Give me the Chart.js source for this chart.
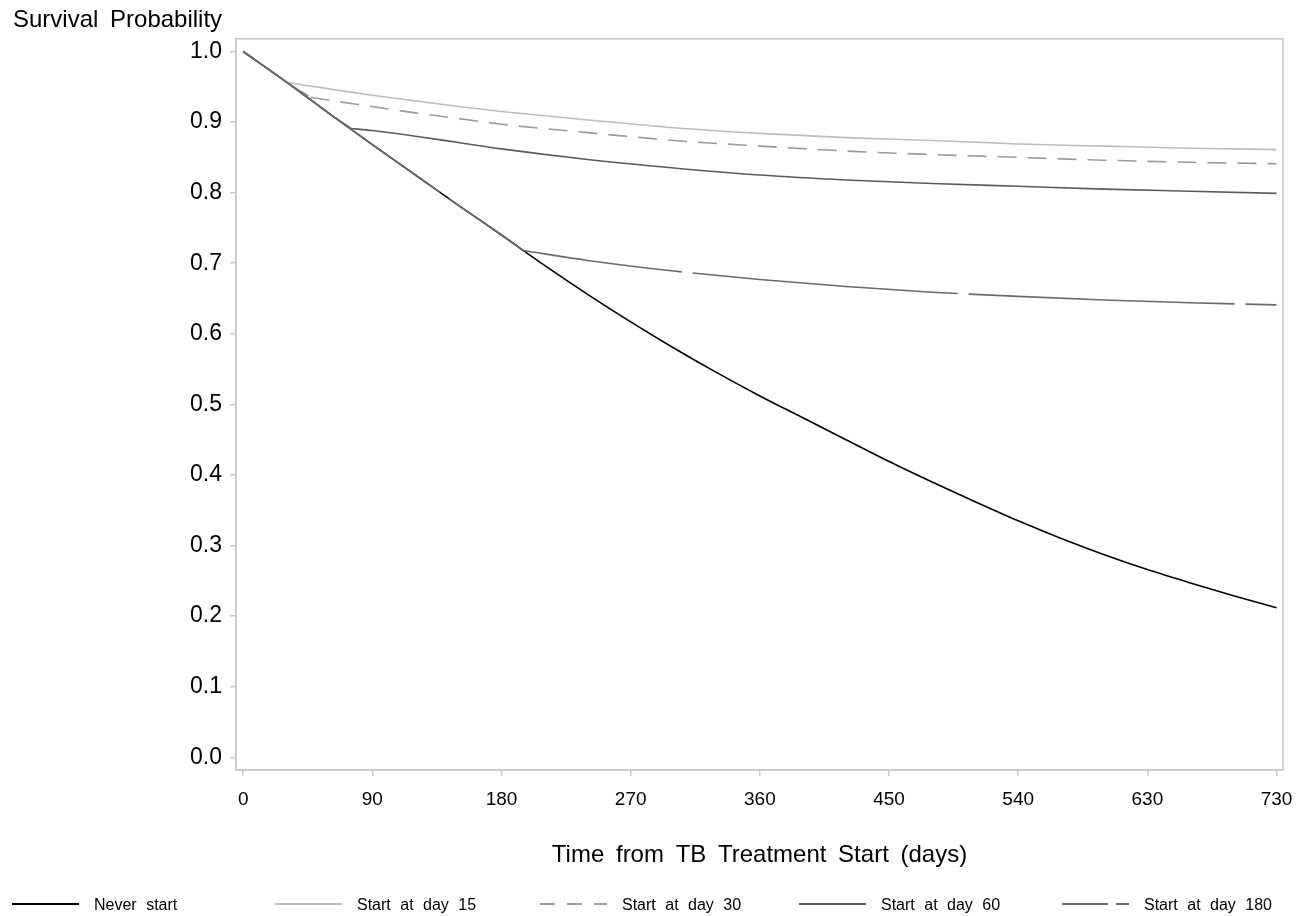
<!DOCTYPE html>
<html>
<head>
<meta charset="utf-8">
<script src="https://cdn.jsdelivr.net/npm/chart.js@4.4.1/dist/chart.umd.min.js"></script>
<style>
  html, body { margin: 0; padding: 0; background: #fff; }
</style>
</head>
<body>
<canvas id="chart" width="1305" height="916"></canvas>
<script>
// Survival curves (days -> probability).
const seriesNames = ['Never start', 'Start at day 15', 'Start at day 30', 'Start at day 60', 'Start at day 180'];

const neverDays = [0, 30, 60, 90, 120, 150, 180, 210, 240, 270, 300, 330, 360, 390, 420, 450, 480, 510, 540, 570, 600, 630, 660, 690, 720];
const neverSurv = [1.000, 0.957, 0.912, 0.868, 0.825, 0.782, 0.740, 0.697, 0.656, 0.617, 0.580, 0.545, 0.512, 0.481, 0.450, 0.419, 0.390, 0.362, 0.335, 0.310, 0.287, 0.266, 0.247, 0.229, 0.212];

const day15Days = [31, 60, 90, 120, 150, 180, 240, 300, 360, 420, 480, 540, 600, 660, 720];
const day15Surv = [0.956, 0.947, 0.938, 0.930, 0.922, 0.915, 0.903, 0.892, 0.884, 0.878, 0.874, 0.869, 0.866, 0.863, 0.861];

const day30Days = [47, 60, 90, 120, 150, 180, 240, 300, 360, 420, 480, 540, 600, 660, 720];
const day30Surv = [0.935, 0.931, 0.922, 0.913, 0.905, 0.897, 0.885, 0.874, 0.866, 0.859, 0.854, 0.850, 0.846, 0.843, 0.841];

const day60Days = [75, 90, 120, 150, 180, 240, 300, 360, 420, 480, 540, 600, 660, 720];
const day60Surv = [0.891, 0.888, 0.880, 0.871, 0.862, 0.847, 0.835, 0.825, 0.818, 0.813, 0.809, 0.805, 0.802, 0.799];

const day180Days = [195, 240, 300, 360, 420, 480, 540, 600, 660, 720];
const day180Surv = [0.718, 0.704, 0.689, 0.677, 0.667, 0.659, 0.653, 0.648, 0.644, 0.641];

const xTickValues = [0, 90, 180, 270, 360, 450, 540, 630, 720];
const xTickLabels = ['0', '90', '180', '270', '360', '450', '540', '630', '730'];
const yTickValues = [0, 0.1, 0.2, 0.3, 0.4, 0.5, 0.6, 0.7, 0.8, 0.9, 1.0];

const FONT = '"Liberation Sans", Arial, Helvetica, sans-serif';
const AXIS_GREY = '#c8c8c8';

function toPoints(days, surv) {
  return days.map((d, i) => ({ x: d, y: surv[i] }));
}

// a delayed start follows the never-start curve until it branches off
function prefixOf(days, surv) {
  const pts = toPoints(neverDays, neverSurv).filter((p) => p.x < days[0] - 5);
  pts.push({ x: days[0], y: surv[0] });
  return pts;
}

const styles = [
  { color: '#000000' },
  { color: '#bdbdbd' },
  { color: '#9a9a9a', dash: [19, 11], prefixOffset: 0, offset: 0 },
  { color: '#5a5a5a' },
  { color: '#6a6a6a', dash: [266, 11], prefixOffset: 24, offset: 106 },
];
const tails = [null, [day15Days, day15Surv], [day30Days, day30Surv], [day60Days, day60Surv], [day180Days, day180Surv]];

const datasets = [];
seriesNames.forEach((name, i) => {
  const st = styles[i];
  const base = {
    borderColor: st.color,
    borderWidth: 1.6,
    borderDash: st.dash || [],
    cubicInterpolationMode: 'monotone',
    order: 5 - i,
  };
  if (i === 0) {
    datasets.push({ ...base, label: name, data: toPoints(neverDays, neverSurv) });
    return;
  }
  const [days, surv] = tails[i];
  datasets.push({ ...base, label: name, data: toPoints(days, surv), borderDashOffset: st.offset || 0 });
  datasets.push({ ...base, label: name + ' (before start)', isPrefix: true, data: prefixOf(days, surv), borderDashOffset: st.prefixOffset || 0 });
});

// grey box around the plot area
const frame = {
  id: 'frame',
  beforeDatasetsDraw(chart) {
    const { ctx, chartArea: a } = chart;
    ctx.save();
    ctx.strokeStyle = AXIS_GREY;
    ctx.lineWidth = 1.5;
    ctx.strokeRect(a.left, a.top, a.right - a.left, a.bottom - a.top);
    ctx.restore();
  },
};

// SAS-style legend row with fixed columns under the axis title
const bottomLegend = {
  id: 'bottomLegend',
  afterDraw(chart, args, opts) {
    const ctx = chart.ctx;
    ctx.save();
    ctx.font = `16px ${FONT}`;
    ctx.textBaseline = 'middle';
    chart.data.datasets.filter((ds) => !ds.isPrefix).forEach((ds, i) => {
      const x0 = opts.columns[i];
      ctx.strokeStyle = ds.borderColor;
      ctx.lineWidth = 2;
      ctx.setLineDash(opts.dashes[i]);
      ctx.beginPath();
      ctx.moveTo(x0, opts.y);
      ctx.lineTo(x0 + opts.lineLength, opts.y);
      ctx.stroke();
      ctx.setLineDash([]);
      ctx.fillStyle = '#000';
      ctx.fillText(ds.label, x0 + opts.lineLength + opts.gap, opts.y + 2);
    });
    ctx.restore();
  },
};

const wordGap = {
  id: 'wordGap',
  beforeDraw(chart) { chart.ctx.wordSpacing = '5px'; },
};

new Chart(document.getElementById('chart'), {
  type: 'line',
  data: { datasets },
  plugins: [frame, bottomLegend, wordGap],
  options: {
    responsive: false,
    animation: false,
    layout: { padding: { left: 13, right: 22, top: 0, bottom: 36 } },
    elements: { point: { radius: 0 }, line: { fill: false } },
    plugins: {
      legend: { display: false },
      tooltip: { enabled: false },
      title: {
        display: true,
        text: 'Survival Probability',
        align: 'start',
        color: '#000',
        font: { family: FONT, size: 24, weight: 'normal' },
        padding: { top: 6, bottom: 4 },
      },
      bottomLegend: {
        columns: [12, 275, 540, 799, 1062],
        lineLength: 67,
        gap: 15,
        y: 904,
        dashes: [[], [], [15, 12], [], [46, 8, 13, 60]],
      },
    },
    scales: {
      x: {
        type: 'linear',
        min: -5,
        max: 724.5,
        afterBuildTicks: (s) => { s.ticks = xTickValues.map((v) => ({ value: v })); },
        afterFit: (s) => { s.height = 110; },
        ticks: {
          color: '#000',
          font: { family: FONT, size: 19 },
          padding: 12,
          maxRotation: 0,
          callback: (v, i) => xTickLabels[i],
        },
        grid: { drawOnChartArea: false, drawTicks: true, tickLength: 6, color: AXIS_GREY, lineWidth: 1.5 },
        border: { color: AXIS_GREY, width: 1.5 },
        title: {
          display: true,
          text: 'Time from TB Treatment Start (days)',
          color: '#000',
          font: { family: FONT, size: 24 },
          padding: { top: 0, bottom: 10 },
        },
      },
      y: {
        type: 'linear',
        min: -0.018,
        max: 1.018,
        afterBuildTicks: (s) => { s.ticks = yTickValues.map((v) => ({ value: v })); },
        afterFit: (s) => { s.width = 223; },
        ticks: {
          color: '#000',
          font: { family: FONT, size: 23 },
          padding: 8,
          callback: (v) => v.toFixed(1),
        },
        grid: { drawOnChartArea: false, drawTicks: true, tickLength: 6, color: AXIS_GREY, lineWidth: 1.5 },
        border: { color: AXIS_GREY, width: 1.5 },
      },
    },
  },
});
</script>
</body>
</html>
